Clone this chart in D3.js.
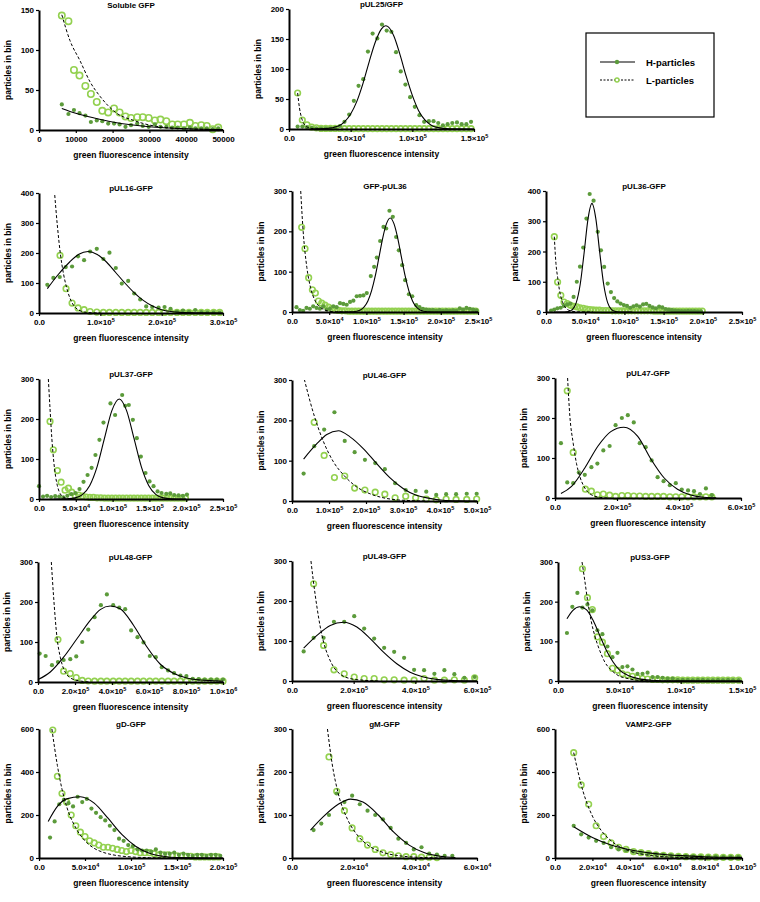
<!DOCTYPE html>
<html><head><meta charset="utf-8">
<script src="https://cdn.jsdelivr.net/npm/d3@7"></script>
<style>
body{margin:0;background:#fff}
text{font-family:"Liberation Sans",Arial,sans-serif;font-weight:bold;fill:#000}
</style>
</head><body>
<svg id="chart" width="760" height="902"></svg>
<script>
// ---------- DATA ----------
const titles = ["Soluble GFP","pUL25/GFP","pUL16-GFP","GFP-pUL36","pUL36-GFP","pUL37-GFP","pUL46-GFP","pUL47-GFP","pUL48-GFP","pUL49-GFP","pUS3-GFP","gD-GFP","gM-GFP","VAMP2-GFP"];
const seriesNames = ["H-particles","L-particles"];
const xTickSets = [
  [0,10000,20000,30000,40000,50000],
  [0,50000,100000,150000],
  [0,100000,200000,300000],
  [0,50000,100000,150000,200000,250000],
  [0,50000,100000,150000,200000,250000],
  [0,50000,100000,150000,200000,250000],
  [0,100000,200000,300000,400000,500000],
  [0,200000,400000,600000],
  [0,200000,400000,600000,800000,1000000],
  [0,200000,400000,600000],
  [0,50000,100000,150000],
  [0,50000,100000,150000,200000],
  [0,20000,40000,60000],
  [0,20000,40000,60000,80000,100000]
];
const yTickSets = [
  [0,50,100,150],[0,50,100,150,200],[0,100,200,300,400],[0,100,200,300],[0,100,200,300,400],
  [0,100,200,300],[0,100,200,300],[0,100,200,300],[0,100,200,300],[0,100,200,300],[0,100,200,300],
  [0,200,400,600],[0,100,200,300],[0,200,400,600]
];

// Soluble GFP
const solH = [[6200,32],[8000,20],[9500,25],[11000,21],[12600,18],[14100,10],[15700,12],[17200,11],[18800,8],[20400,8],[21900,7],[23500,4],[25000,6],[26700,8],[28200,5],[29800,4],[31500,7],[33000,4],[34600,4],[36200,3],[37700,3],[39400,2],[41000,3],[42500,2],[44100,2],[45600,2],[47200,1],[48700,2]];
const solL = [[6200,143],[8000,136],[9500,75],[11000,68],[12600,55],[14100,45],[15700,35],[17200,24],[18800,22],[20400,27],[21900,22],[23500,17],[25000,15],[26700,16],[28200,16],[29800,15],[31500,12],[33000,13],[34600,11],[36200,7],[37700,7],[39400,7],[41000,9],[42500,5],[44100,6],[45600,5],[47200,1],[48700,3]];
const solHFit = [[6200,27],[10000,21],[15000,15],[20000,10],[25000,6.5],[30000,4],[40000,1.5],[50000,0.5]];
const solLFit = [[6200,144],[8400,112],[11100,87],[13900,60],[16600,42],[21100,21],[25700,12],[30200,6],[34700,3],[40000,1.5],[50000,0.4]];

// pUL25/GFP
const ul25H = [[7000,4],[10800,4],[14600,3],[18400,2],[22200,1],[26000,1],[29800,1],[33600,1],[37400,2],[41200,5],[45000,12],[48800,24],[52600,47],[56400,72],[60200,83],[64000,129],[67800,159],[71600,151],[75400,174],[79200,164],[83000,162],[86800,128],[90600,96],[94400,74],[98200,53],[102000,37],[105800,23],[109600,12],[113400,13],[117200,13],[121000,10],[124800,6],[128600,8],[132400,10],[136200,11],[140000,8],[143800,8],[147600,12]];
const ul25L = [[7000,60],[10800,15],[14600,7],[18400,3],[22200,2],[26000,1],[29800,1],[33600,1],[37400,1],[41200,1],[45000,0.5],[48800,0.5],[52600,0.5],[56400,0.5],[60200,0.5],[64000,0.5],[67800,0.5],[71600,0.5],[75400,0.5],[79200,0.5],[83000,0.5],[86800,0.5],[90600,0.5],[94400,0.5],[98200,0.5],[102000,0.5],[105800,0.5],[109600,0.5],[113400,0.5],[117200,0.5],[121000,0.5],[124800,0.5],[128600,0.5],[132400,0.5],[136200,0.5],[140000,0.5],[143800,0.5],[147600,0.5]];
const ul25HFit = [[20000,0],[30000,0.6],[40000,5],[45000,12],[50000,25],[55000,46],[60000,76],[65000,112],[70000,145],[75000,167],[78400,172],[80000,171],[85000,155],[90000,124],[95000,88],[100000,56],[105000,31],[110000,15.5],[115000,6.8],[120000,2.7],[130000,0.3],[150000,0]];
const ul25LFit = [[7000,60],[8500,35],[10000,20],[11500,11],[13000,6],[15000,3],[18000,1],[22000,0.2],[30000,0]];

// pUL16-GFP
const ul16H = [[13600,94],[23400,117],[33800,120],[43600,153],[53900,155],[63700,189],[73500,176],[83300,205],[94200,214],[105000,180],[114900,201],[125200,150],[135000,98],[145400,107],[155200,65],[165000,45],[174800,22],[184600,20],[194900,18],[204700,20],[214500,14],[224900,5],[234700,8],[244500,4],[254800,10],[264600,3],[274400,2],[284800,2],[294600,1]];
const ul16L = [[34300,192],[44100,81],[53900,33],[63700,17],[73500,11],[83300,5],[94200,3],[105000,2],[114900,2],[125200,2],[135000,2],[145400,2],[155200,2],[165000,2],[174800,2],[184600,2],[194900,2],[204700,2],[214500,2],[224900,2],[234700,2],[244500,2],[254800,2],[264600,2],[274400,2],[284800,2],[294600,2]];
const ul16HFit = [[13600,81],[30000,125],[50000,170],[65000,196],[80000,205],[95000,195],[110000,170],[125000,135],[140000,100],[155000,68],[170000,42],[185000,23],[200000,11],[215000,5],[230000,2],[260000,0.5],[300000,0]];
const ul16LFit = [[25000,410],[30000,290],[35000,195],[40000,130],[45000,85],[50000,52],[55000,30],[60000,17],[70000,5],[80000,1.5],[100000,0]];

// GFP-pUL36
const g36H = [[6000,12],[10500,5],[15000,3],[19500,10],[24000,8],[28500,14],[33000,10],[37500,8],[42000,14],[46500,6],[51000,8],[55500,14],[60000,12],[64500,22],[69000,20],[73500,18],[78000,25],[82500,28],[87000,39],[91500,40],[96000,41],[100500,47],[105900,89],[110400,112],[114000,135],[118500,176],[123000,211],[126600,207],[131000,251],[135500,236],[140000,186],[143600,153],[148100,116],[152100,79],[157100,44],[161600,39],[167000,17],[171400,12],[176000,8],[180500,6],[185000,5],[189500,5],[194000,3],[198500,5],[203000,3],[207500,4],[212000,3],[216500,4],[221000,3],[225500,9],[230000,6],[234500,10],[239000,8],[243500,6],[248000,4]];
const g36L = [[13000,210],[17500,157],[22400,85],[27400,55],[31400,47],[35500,27],[40000,22],[44400,17],[49000,12],[53500,8],[58000,5],[62500,4],[67000,3],[71500,3],[76000,2],[80500,2],[85000,2],[89500,2],[94000,2],[98500,2],[103000,2],[107500,2],[112000,2],[116500,2],[121000,2],[125500,2],[130000,2],[134500,2],[139000,2],[143500,2],[148000,2],[152500,2],[157000,2],[161500,2],[166000,2],[170500,2],[175000,2],[179500,2],[184000,2],[188500,2],[193000,2],[197500,2],[202000,2],[206500,2],[211000,2],[215500,2],[220000,2],[224500,2],[229000,2],[233500,2],[238000,2],[242500,2],[247000,2]];
const g36HFit = [[60000,0],[82000,0.6],[92000,5.2],[97000,12.7],[102000,27.5],[107000,53],[112000,90],[117000,136.5],[122000,184],[127000,219],[132000,233],[137000,219],[142000,184],[147000,136.5],[152000,90],[157000,53],[162000,27.5],[167000,12.7],[172000,5.2],[182000,0.6],[200000,0],[250000,0]];
const g36LFit = [[11700,300],[15000,200],[20000,110],[25000,60],[30000,32],[35000,17],[40000,9],[50000,2],[60000,0.5],[80000,0]];

// pUL36-GFP
const u36H = [[6500,5],[10500,8],[14500,12],[18700,14],[22800,20],[27000,25],[31000,28],[35200,50],[39300,100],[43400,150],[47500,213],[51600,309],[55700,390],[60700,368],[66000,265],[70100,204],[74200,149],[78700,94],[82800,66],[86900,46],[91000,35],[95100,28],[99200,23],[103300,20],[107400,14],[111500,19],[115600,22],[119700,18],[123800,25],[127900,27],[132000,20],[136100,15],[140200,12],[144300,18],[148400,15],[152500,10],[156600,8],[160700,6],[164800,5],[168900,4],[173000,3],[177100,3],[181200,4],[185300,3],[189400,3],[193500,2],[197600,2]];
const u36L = [[10600,249],[14800,99],[18900,55],[23000,33],[27100,28],[31200,22],[35300,19],[39400,17],[43500,14],[47600,12],[51700,10],[55800,8],[59900,7],[64000,6],[68100,6],[72200,5],[76300,5],[80400,5],[84500,4],[88600,4],[92700,4],[96800,4],[100900,4],[105000,4],[109100,4],[113200,4],[117300,4],[121400,4],[125500,4],[129600,4],[133700,4],[137800,3],[141900,3],[146000,3],[150100,3],[154200,3],[158300,3],[162400,3],[166500,3],[170600,3],[174700,3],[178800,3],[182900,3],[187000,3],[191100,3],[195200,3],[199300,3]];
const u36HFit = [[10000,0],[23600,0.2],[28600,1.5],[33600,7.9],[38600,31],[43600,91],[48600,195],[53600,308],[58600,359],[63600,308],[68600,195],[73600,91],[78600,31],[83600,7.9],[88600,1.5],[93600,0.2],[110000,0]];
const u36LFit = [[10600,249],[12700,160],[14800,115],[17000,75],[19000,50],[23000,22],[27000,9],[31000,4],[40000,0.5],[60000,0]];

// pUL37-GFP
const ul37H = [[0,32],[5500,6],[11000,8],[16500,5],[22000,7],[27500,6],[33000,4],[38500,8],[44000,12],[49500,15],[55000,25],[60500,43],[66000,60],[71500,78],[76700,110],[82100,148],[87600,191],[97100,239],[103400,210],[113000,260],[117100,233],[122000,235],[127500,198],[132900,152],[138400,106],[144700,65],[150200,44],[155600,32],[161100,19],[166500,15],[172900,13],[178300,14],[183700,10],[189600,9],[195500,8],[201000,11]];
const ul37L = [[15000,194],[19500,123],[25000,71],[30000,42],[35400,22],[40000,27],[44500,17],[49500,7],[54000,10],[59000,7],[64000,5],[69000,4],[74000,4],[79000,3],[84000,3],[89000,2],[94000,2],[99000,2],[104000,2],[109000,2],[114000,2],[119000,2],[124000,2],[129000,2],[134000,2],[139000,2],[144000,2],[149000,2],[154000,2],[159000,2],[164000,2],[169000,2],[174000,2],[179000,2],[184000,2],[189000,2],[194000,2],[199000,2]];
const ul37HFit = [[20000,0],[39000,0.6],[49000,2.8],[59000,11],[69000,34],[79000,81],[89000,152],[99000,221],[109000,250],[119000,221],[129000,152],[139000,81],[149000,34],[159000,11],[169000,2.8],[179000,0.6],[200000,0]];
const ul37LFit = [[12700,300],[15000,225],[17500,150],[20000,95],[22500,57],[25000,33],[27500,18],[30000,10],[35000,3],[40000,1],[50000,0]];

// pUL46-GFP
const ul46H = [[31400,68],[60000,136],[86900,177],[114700,220],[142500,149],[169300,121],[197100,102],[224900,94],[250900,79],[278700,44],[307300,27],[334200,25],[362900,23],[389800,15],[416600,17],[443500,17],[472200,18],[499100,18]];
const ul46L = [[60000,195],[86900,113],[114700,58],[142500,62],[169300,32],[197100,27],[224900,22],[250900,17],[278700,8],[307300,12],[334200,8],[362900,5],[389800,3],[416600,5],[443500,4],[472200,4],[499100,5]];
const ul46HFit = [[31400,104],[67200,142],[94100,165],[125500,174],[156800,159],[192600,130],[228500,93],[264300,58],[300200,31],[336000,14],[371800,6.6],[407700,2],[450000,0.5],[500000,0]];
const ul46LFit = [[33200,302],[58200,217],[85100,147],[112000,97],[138900,65],[174700,35],[210600,18],[246400,8],[282200,3],[320000,1],[360000,0]];

// pUL47-GFP
const ul47H = [[19200,137],[39500,39],[58700,37],[76900,64],[96100,58],[117400,77],[136700,86],[155900,119],[176200,130],[195400,182],[215700,200],[234900,207],[254100,189],[273300,137],[292500,127],[311700,94],[331000,52],[350200,42],[370500,32],[389700,37],[408900,21],[429200,19],[448400,17],[467600,10],[486800,24],[506000,7]];
const ul47L = [[39500,268],[58700,114],[98200,22],[117400,17],[136700,8],[155900,10],[176200,7],[195400,4],[215700,6],[234900,6],[254100,5],[273300,5],[292500,4],[311700,4],[331000,4],[350200,4],[370500,3],[389700,3],[408900,3],[429200,3],[448400,3],[467600,3],[486800,3],[506000,3]];
const ul47HFit = [[19200,11],[53400,29],[96100,75],[138800,130],[180000,166],[222000,177],[266900,154],[309600,97],[352300,50],[395000,22],[437700,7.5],[480400,1.7],[520000,0.3]];
const ul47LFit = [[40600,300],[48000,204],[58700,137],[69400,86],[80000,54],[96100,25],[117400,8],[138800,2.5],[170000,0]];

// pUL48-GFP
const ul48H = [[9000,71],[41400,65],[75500,42],[107900,50],[138500,55],[174500,57],[206800,64],[239200,100],[271600,131],[305800,162],[340000,192],[372300,219],[406500,192],[438900,186],[471200,182],[503600,129],[537800,112],[570200,99],[604300,65],[636700,62],[669100,37],[703200,29],[735600,22],[769800,16],[802200,15],[836300,8],[868700,7],[901000,6],[935000,6],[967000,6],[1000000,6]];
const ul48L = [[107900,106],[138500,27],[174500,21],[206800,11],[239200,4],[271600,2.5],[305800,2],[340000,2],[372300,2],[406500,2],[438900,2],[471200,2],[503600,2],[537800,2],[570200,2],[604300,2],[636700,2],[669100,2],[703200,2],[735600,2],[769800,2],[802200,2],[836300,2],[868700,2],[901000,2],[935000,2],[967000,2],[1000000,2]];
const ul48HFit = [[0,6],[66500,25],[138500,62],[210500,108],[282400,154],[336400,181],[390300,190],[444200,183],[516200,142],[588100,88],[660000,45],[732000,22],[804000,10],[876000,5],[948000,3],[1000000,2]];
const ul48LFit = [[72000,300],[84500,212],[102500,112],[120500,62],[138500,33],[156500,18],[183500,8],[228400,2.5],[280000,0]];

// pUL49-GFP
const ul49H = [[37800,74],[70100,108],[102500,108],[136000,148],[169400,148],[201800,162],[234100,131],[266500,106],[298900,83],[331300,73],[363600,58],[396000,28],[428400,27],[461800,18],[494200,27],[526600,17],[559000,8],[592400,10]];
const ul49L = [[70100,243],[102500,89],[136000,28],[169400,18],[201800,10],[234100,6],[266500,6],[298900,3],[331300,3],[363600,2],[396000,2],[428400,6],[461800,2],[494200,2],[526600,3],[559000,2],[592400,8]];
const ul49HFit = [[37800,82],[80900,114],[124100,139],[167200,147],[210400,135],[253600,106],[296700,72],[339900,43],[383000,22],[426200,10],[469000,4],[512000,1.5],[560000,0.3],[600000,0]];
const ul49LFit = [[61500,300],[70100,245],[80900,185],[91700,135],[102500,97],[118700,60],[134900,35],[156500,17],[188800,6],[230000,2],[280000,0]];

// pUS3-GFP
const us3H = [[7300,121],[11700,187],[15800,222],[19900,185],[24000,193],[28000,178],[32100,128],[36200,118],[40300,87],[44400,60],[48500,71],[52500,35],[56600,37],[60700,29],[64800,18],[68900,18],[73000,21],[77100,10],[81200,10],[85300,8],[89400,6],[93500,6],[97600,3],[101700,3],[105800,3],[109900,2],[114000,3],[118100,3],[122200,2],[126300,2],[130400,3],[134500,2],[138600,3],[142700,2],[147300,2]];
const us3L = [[19900,283],[24000,210],[28000,180],[32100,111],[36200,98],[40300,69],[44400,32],[48500,27],[52500,18],[56600,15],[60700,12],[64800,8],[68900,6],[73000,5],[77100,4],[81200,4],[85300,3],[89400,3],[93500,3],[97600,3],[101700,2],[105800,2],[109900,2],[114000,2],[118100,2],[122200,2],[126300,2],[130400,2],[134500,2],[138600,2],[142700,2],[147300,2]];
const us3HFit = [[7300,157],[12200,178],[17700,187],[23100,180],[28600,153],[34000,115],[39500,77],[44900,48],[50400,27],[57200,14],[65300,6],[76200,2],[92500,0.3],[150000,0]];
const us3LFit = [[19600,300],[21800,254],[24500,195],[27200,149],[29900,115],[34000,77],[38100,48],[43600,27],[49000,14],[57200,6],[65300,2],[80000,0]];

// gD-GFP
const gdH = [[12000,95],[17000,170],[22000,250],[27000,270],[32000,255],[37000,240],[42000,285],[47000,260],[52000,275],[57000,230],[62000,210],[67000,190],[72000,175],[77000,150],[82000,130],[87000,90],[92000,80],[97000,60],[102000,55],[107000,40],[112000,35],[117000,35],[122000,30],[127000,40],[132000,25],[137000,20],[142000,20],[147000,25],[152000,15],[157000,20],[162000,15],[167000,10],[172000,15],[177000,15],[182000,10],[187000,15],[192000,15],[197000,10]];
const gdL = [[15000,595],[20000,380],[25000,300],[30000,260],[35000,200],[40000,150],[45000,120],[50000,100],[55000,80],[60000,70],[65000,60],[70000,50],[75000,50],[80000,45],[85000,40],[90000,35],[95000,30],[100000,35],[105000,30],[110000,25],[115000,25],[120000,25],[125000,20],[130000,15],[135000,15],[140000,15],[145000,12],[150000,10],[155000,10],[160000,8],[165000,8],[170000,5],[175000,5],[180000,5],[185000,5],[190000,5],[195000,5]];
const gdHFit = [[10000,170],[20000,240],[30000,275],[45000,285],[60000,255],[75000,185],[90000,110],[105000,55],[120000,22],[135000,8],[150000,2],[200000,0]];
const gdLFit = [[14000,600],[20000,430],[25000,320],[30000,240],[40000,140],[50000,80],[60000,45],[70000,26],[80000,15],[100000,5],[120000,1.5],[150000,0]];

// gM-GFP
const gmH = [[7000,65],[9500,80],[12000,100],[14500,150],[17000,130],[19500,145],[22000,125],[24500,110],[27000,100],[29500,90],[32000,70],[34500,45],[37000,35],[39500,20],[42000,25],[44500,10],[47000,8],[49500,5],[52000,5]];
const gmL = [[12000,235],[14500,155],[17000,110],[19500,70],[22000,45],[24500,30],[27000,20],[29500,12],[32000,8],[34500,5],[37000,3],[39500,3],[42000,2],[44500,2],[47000,1]];
const gmHFit = [[6000,65],[10000,95],[15000,125],[19000,137],[23000,130],[28000,100],[33000,60],[38000,30],[43000,12],[48000,4],[53000,1]];
const gmLFit = [[11500,300],[13000,220],[15000,150],[18000,90],[21000,55],[25000,28],[30000,12],[35000,5],[40000,2],[50000,0]];

// VAMP2-GFP
const vampH = [[10000,150],[14000,110],[18000,95],[22000,80],[26000,70],[30000,50],[34000,40],[38000,35],[42000,30],[46000,25],[50000,20],[54000,18],[58000,15],[62000,12],[66000,10],[70000,9],[74000,8],[78000,7],[82000,6],[86000,6],[90000,5],[94000,5],[98000,5]];
const vampL = [[10000,490],[14000,340],[18000,250],[22000,150],[26000,100],[30000,70],[34000,50],[38000,40],[42000,30],[46000,25],[50000,20],[54000,15],[58000,12],[62000,10],[66000,8],[70000,6],[74000,5],[78000,5],[82000,4],[86000,4],[90000,3],[94000,3],[98000,3]];
const vampHFit = [[10000,145],[20000,95],[30000,60],[40000,38],[50000,24],[60000,15],[70000,10],[80000,6],[100000,3]];
const vampLFit = [[10000,490],[15000,310],[20000,195],[25000,125],[30000,80],[40000,32],[50000,13],[60000,5],[80000,1],[100000,0]];

// ---------- LAYOUT (pixel boxes: left, right, top, bottom) ----------
const boxes = [
  [39,223,10,130],[289,474,9,129],
  [39,223,193,313],[292,478,191,312],[546,742,191,312],
  [39,223,379,499],[292,477,380,501],[555,741,378,498],
  [38,223,562,682],[292,477,561,681],[558,742,562,681],
  [39,223,729,858],[292,477,729,858],[555,742,729,858]
];
const hSets = [solH,ul25H,ul16H,g36H,u36H,ul37H,ul46H,ul47H,ul48H,ul49H,us3H,gdH,gmH,vampH];
const lSets = [solL,ul25L,ul16L,g36L,u36L,ul37L,ul46L,ul47L,ul48L,ul49L,us3L,gdL,gmL,vampL];
const hFits = [solHFit,ul25HFit,ul16HFit,g36HFit,u36HFit,ul37HFit,ul46HFit,ul47HFit,ul48HFit,ul49HFit,us3HFit,gdHFit,gmHFit,vampHFit];
const lFits = [solLFit,ul25LFit,ul16LFit,g36LFit,u36LFit,ul37LFit,ul46LFit,ul47LFit,ul48LFit,ul49LFit,us3LFit,gdLFit,gmLFit,vampLFit];

const H_COLOR = "#5c9b3b", L_COLOR = "#93d150";
const svg = d3.select("#chart");

function labelParts(v, plain){
  if (plain) return [String(v), null];
  if (v === 0) return ["0.0", null];
  const e = Math.floor(Math.log10(v) + 1e-9);
  const m = v / Math.pow(10, e);
  return [m.toFixed(1) + "×10", String(e)];
}

titles.forEach((title, i) => {
  const [L, R, T, B] = boxes[i];
  const xt = xTickSets[i], yt = yTickSets[i];
  const x = d3.scaleLinear().domain([0, xt[xt.length-1]]).range([L, R]);
  const y = d3.scaleLinear().domain([0, yt[yt.length-1]]).range([B, T]);
  const plain = i === 0;
  const g = svg.append("g");

  const clipId = "clip" + i;
  svg.append("clipPath").attr("id", clipId).append("rect")
    .attr("x", L - 2).attr("y", T).attr("width", R - L + 6).attr("height", B - T + 1);

  g.append("g").selectAll("circle").data(lSets[i]).join("circle")
    .attr("cx", d => x(d[0])).attr("cy", d => y(d[1])).attr("r", i === 0 ? 3.2 : 2.8)
    .attr("fill", "none").attr("stroke", L_COLOR).attr("stroke-width", 1.6);
  g.append("g").selectAll("circle").data(hSets[i]).join("circle")
    .attr("cx", d => x(d[0])).attr("cy", d => y(d[1])).attr("r", 2.1)
    .attr("fill", H_COLOR);

  const line = d3.line().x(d => x(d[0])).y(d => y(d[1])).curve(d3.curveMonotoneX);
  g.append("path").datum(lFits[i]).attr("d", line).attr("clip-path", `url(#${clipId})`)
    .attr("fill", "none").attr("stroke", "#000").attr("stroke-width", 1).attr("stroke-dasharray", "3,2");
  g.append("path").datum(hFits[i]).attr("d", line).attr("clip-path", `url(#${clipId})`)
    .attr("fill", "none").attr("stroke", "#000").attr("stroke-width", 1.1);

  const xa = g.append("g").attr("transform", `translate(0,${B})`)
    .call(d3.axisBottom(x).tickValues(xt).tickSize(3).tickSizeOuter(0).tickPadding(3));
  const ya = g.append("g").attr("transform", `translate(${L},0)`)
    .call(d3.axisLeft(y).tickValues(yt).tickSize(3).tickSizeOuter(0).tickPadding(2));
  [xa, ya].forEach(a => {
    a.select(".domain").attr("stroke", "#000").attr("stroke-width", 2);
    a.selectAll(".tick line").attr("stroke", "#000").attr("stroke-width", 1.2);
    a.selectAll(".tick text").attr("font-size", 8).attr("font-family", "Liberation Sans, Arial, sans-serif").attr("font-weight", "bold").attr("fill", "#000");
  });
  xa.selectAll(".tick text").each(function(d){
    const t = d3.select(this);
    const [base, exp] = labelParts(d, plain);
    t.text(null);
    t.append("tspan").text(base);
    if (exp) t.append("tspan").attr("dy", "-0.45em").attr("font-size", 5.5).text(exp);
  });

  g.append("text").attr("x", (L + R) / 2).attr("y", T - 2).attr("text-anchor", "middle")
    .attr("font-size", 8).text(title);
  g.append("text").attr("transform", `translate(${L - 28},${(T + B) / 2}) rotate(-90)`)
    .attr("text-anchor", "middle").attr("font-size", 8.5).text("particles in bin");
  g.append("text").attr("x", (L + R) / 2).attr("y", B + 28).attr("text-anchor", "middle")
    .attr("font-size", 8.5).text("green fluorescence intensity");
});

const lg = svg.append("g");
lg.append("rect").attr("x", 586).attr("y", 33).attr("width", 128).attr("height", 84)
  .attr("fill", "#fff").attr("stroke", "#000").attr("stroke-width", 1.2);
seriesNames.forEach((name, k) => {
  const yy = 62 + k * 18;
  lg.append("line").attr("x1", 600).attr("x2", 635).attr("y1", yy).attr("y2", yy)
    .attr("stroke", "#000").attr("stroke-width", k === 0 ? 1.2 : 1).attr("stroke-dasharray", k === 0 ? null : "2,1.5");
  if (k === 0) lg.append("circle").attr("cx", 617).attr("cy", yy).attr("r", 2.2).attr("fill", H_COLOR);
  else lg.append("circle").attr("cx", 617).attr("cy", yy).attr("r", 2).attr("fill", "#fff").attr("stroke", L_COLOR).attr("stroke-width", 1.4);
  lg.append("text").attr("x", 646).attr("y", yy + 3.5).attr("font-size", 9.5).text(name);
});
</script>
</body></html>
